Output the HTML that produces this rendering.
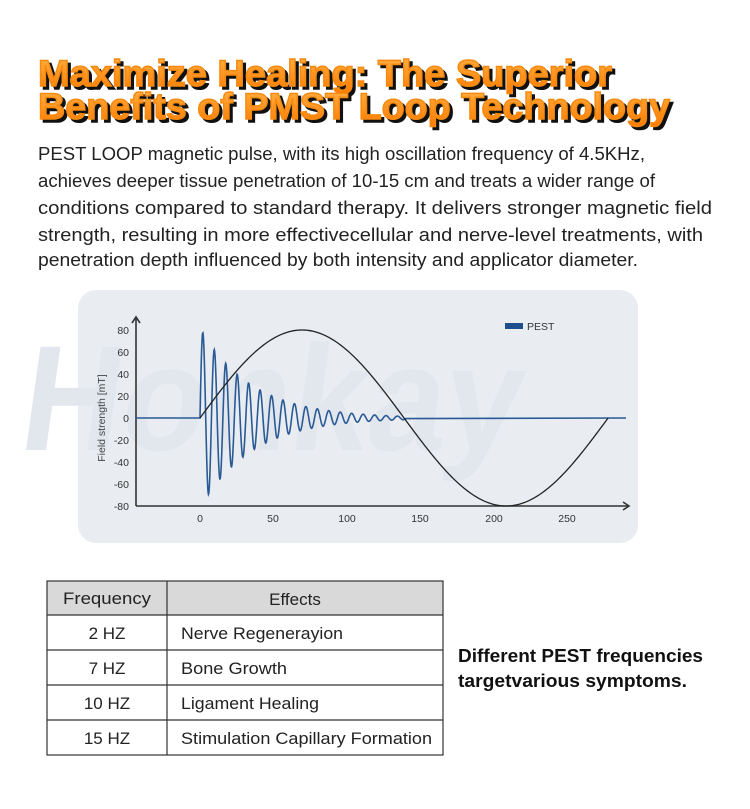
<!DOCTYPE html>
<html><head><meta charset="utf-8"><style>
html,body{margin:0;padding:0;background:#fff;}
svg{display:block;}
</style></head><body>
<svg id="s" width="750" height="809" viewBox="0 0 750 809" xmlns="http://www.w3.org/2000/svg">
<defs>
<linearGradient id="og" x1="0" y1="0" x2="0" y2="1">
<stop offset="0" stop-color="#ffb347"/><stop offset="1" stop-color="#ff7a00"/>
</linearGradient>
<clipPath id="pc"><rect x="40" y="290" width="598" height="253" rx="18"/></clipPath>
</defs>
<rect width="750" height="809" fill="#fff"/>
<!-- Title -->
<g font-family="Liberation Sans, sans-serif" font-weight="bold" font-size="37">
<text x="41" y="89" textLength="574" lengthAdjust="spacingAndGlyphs" fill="#111" stroke="#111" stroke-width="1.6">Maximize Healing: The Superior</text>
<text x="41" y="122" textLength="632" lengthAdjust="spacingAndGlyphs" fill="#111" stroke="#111" stroke-width="1.6">Benefits of PMST Loop Technology</text>
<text x="38" y="86" textLength="574" lengthAdjust="spacingAndGlyphs" fill="url(#og)" stroke="#f58a10" stroke-width="1.4">Maximize Healing: The Superior</text>
<text x="38" y="119" textLength="632" lengthAdjust="spacingAndGlyphs" fill="url(#og)" stroke="#f58a10" stroke-width="1.4">Benefits of PMST Loop Technology</text>
</g>
<!-- Paragraph -->
<g font-family="Liberation Sans, sans-serif" font-size="18" fill="#222">
<text x="38" y="160" textLength="607" lengthAdjust="spacingAndGlyphs">PEST LOOP magnetic pulse, with its high oscillation frequency of 4.5KHz,</text>
<text x="38" y="187" textLength="617" lengthAdjust="spacingAndGlyphs">achieves deeper tissue penetration of 10-15 cm and treats a wider range of</text>
<text x="38" y="214" textLength="674" lengthAdjust="spacingAndGlyphs">conditions compared to standard  therapy. It delivers stronger magnetic field</text>
<text x="38" y="241" textLength="665" lengthAdjust="spacingAndGlyphs">strength, resulting in more effectivecellular and nerve-level treatments, with</text>
<text x="38" y="266" textLength="600" lengthAdjust="spacingAndGlyphs">penetration depth influenced by both intensity and applicator diameter.</text>
</g>
<!-- Chart panel -->
<rect x="78" y="290" width="560" height="253" rx="18" fill="#e9edf2"/>
<text x="80" y="450" font-family="Liberation Sans, sans-serif" font-weight="bold" font-size="150" fill="#e2e7ee" transform="skewX(-8)" textLength="500" lengthAdjust="spacingAndGlyphs" clip-path="url(#pc)">Honkay</text>
<g stroke="#333" stroke-width="1.6" fill="none">
<line x1="136" y1="506" x2="628" y2="506"/>
<line x1="136" y1="506" x2="136" y2="318"/>
<path d="M623 502 L629 506 L623 510"/>
<path d="M132 323 L136 317 L140 323"/>
</g>
<g font-family="Liberation Sans, sans-serif" font-size="10.5" fill="#333" text-anchor="end">
<text x="129" y="334">80</text><text x="129" y="356">60</text><text x="129" y="378">40</text>
<text x="129" y="400">20</text><text x="129" y="422">0</text><text x="129" y="444">-20</text>
<text x="129" y="466">-40</text><text x="129" y="488">-60</text><text x="129" y="510">-80</text>
</g>
<g font-family="Liberation Sans, sans-serif" font-size="10.5" fill="#333" text-anchor="middle">
<text x="200" y="522">0</text><text x="273" y="522">50</text><text x="347" y="522">100</text>
<text x="420" y="522">150</text><text x="494" y="522">200</text><text x="567" y="522">250</text>
</g>
<text transform="translate(105,418) rotate(-90)" font-family="Liberation Sans, sans-serif" font-size="10.5" fill="#444" text-anchor="middle">Field strength [mT]</text>
<rect x="505" y="323" width="18" height="6" fill="#1f4e8c"/>
<text x="527" y="330" font-family="Liberation Sans, sans-serif" font-size="10.5" fill="#333">PEST</text>
<path id="blue" fill="none" stroke="#2a5a95" stroke-width="1.6"/>
<path id="black" fill="none" stroke="#222" stroke-width="1.3"/>
<!-- Table -->
<rect x="47" y="581" width="396" height="34" fill="#d9d9d9"/>
<g stroke="#333" stroke-width="1.2" fill="none">
<rect x="47" y="581" width="396" height="174"/>
<line x1="167" y1="581" x2="167" y2="755"/>
<line x1="47" y1="615" x2="443" y2="615"/>
<line x1="47" y1="650" x2="443" y2="650"/>
<line x1="47" y1="685" x2="443" y2="685"/>
<line x1="47" y1="720" x2="443" y2="720"/>
</g>
<g font-family="Liberation Sans, sans-serif" font-size="17" fill="#222">
<text x="107" y="604" text-anchor="middle" textLength="88" lengthAdjust="spacingAndGlyphs">Frequency</text>
<text x="295" y="605" text-anchor="middle">Effects</text>
<text x="107" y="639" text-anchor="middle">2 HZ</text>
<text x="107" y="674" text-anchor="middle">7 HZ</text>
<text x="107" y="709" text-anchor="middle">10 HZ</text>
<text x="107" y="744" text-anchor="middle">15 HZ</text>
<text x="181" y="639" textLength="162" lengthAdjust="spacingAndGlyphs">Nerve Regenerayion</text>
<text x="181" y="674" textLength="106" lengthAdjust="spacingAndGlyphs">Bone Growth</text>
<text x="181" y="709" textLength="138" lengthAdjust="spacingAndGlyphs">Ligament Healing</text>
<text x="181" y="744" textLength="251" lengthAdjust="spacingAndGlyphs">Stimulation Capillary Formation</text>
</g>
<g font-family="Liberation Sans, sans-serif" font-size="18" font-weight="bold" fill="#111">
<text x="458" y="662" textLength="245" lengthAdjust="spacingAndGlyphs">Different PEST frequencies</text>
<text x="458" y="687" textLength="229" lengthAdjust="spacingAndGlyphs">targetvarious symptoms.</text>
</g>
</svg>
<script>
(function(){
function px(t){return 200+t*1.468;}function py(v){return 418-v*1.1;}
var d="M136 418 L"+px(0)+" 418";
for(var t=0;t<=140;t+=0.25){var v=82*Math.exp(-t/35)*Math.sin(2*Math.PI*t/7.8);d+=" L"+px(t).toFixed(2)+" "+py(v).toFixed(2);}
d+=" L626 418";
document.getElementById("blue").setAttribute("d",d);
var e="M"+px(0)+" 418";
for(var t=0;t<=278;t+=1){var v=80*Math.sin(Math.PI*t/139);if(v<-80)v=-80;e+=" L"+px(t).toFixed(2)+" "+py(v).toFixed(2);}
document.getElementById("black").setAttribute("d",e);
})();
</script>
</body></html>
